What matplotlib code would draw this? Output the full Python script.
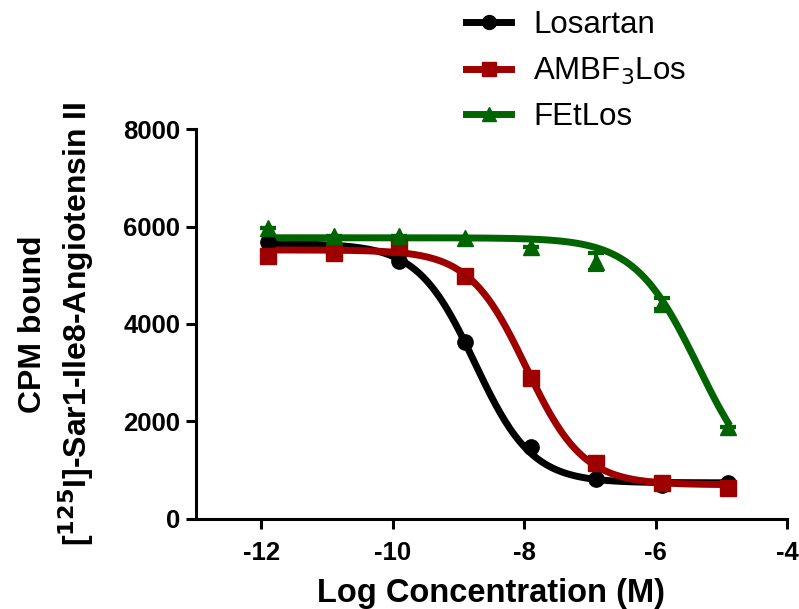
import numpy as np
import matplotlib
matplotlib.use('Agg')
import matplotlib.pyplot as plt

plt.rcParams['font.family'] = ['Liberation Sans', 'DejaVu Sans']
plt.rcParams['axes.unicode_minus'] = False

# Measured points (log M, CPM bound)
log_conc = [-11.9, -10.9, -9.9, -8.9, -7.9, -6.9, -5.9, -4.9]
losartan = [5690, 5550, 5290, 3640, 1480, 820, 690, 740]
ambf3los = [5390, 5460, 5570, 4980, 2900, 1150, 740, 630]
fetlos = [5980, 5810, 5800, 5760, 5580, 5280, 4420, 1880]
fetlos_err = [0, 0, 0, 0, 0, 180, 120, 0]

# One-site fit parameters: top, bottom, logIC50, hill
fit_losartan = (5650, 740, -8.75, 1.0)
fit_ambf3los = (5520, 700, -7.97, 1.0)
fit_fetlos = (5770, 500, -5.354, 0.9)

labels = ["Losartan", "AMBF$_3$Los", "FEtLos"]
colors = ["#000000", "#9E0000", "#006400"]
markers = ["o", "s", "^"]


def dose_response(x, top, bottom, logic50, hill):
    return bottom + (top - bottom) / (1 + 10 ** (hill * (x - logic50)))


fig = plt.figure(figsize=(7.99, 6.09), dpi=100)
ax = fig.add_axes([0.245, 0.148, 0.74, 0.64])

xfit = np.linspace(-11.9, -4.9, 300)
series = [(losartan, None, fit_losartan), (ambf3los, None, fit_ambf3los), (fetlos, fetlos_err, fit_fetlos)]
handles = []
for (y, err, fit), lab, col, mk in zip(series, labels, colors, markers):
    ax.plot(xfit, dose_response(xfit, *fit), color=col, lw=5, zorder=2)
    if err is not None:
        ax.errorbar(log_conc, y, yerr=err, fmt='none', ecolor=col, elinewidth=3,
                    capsize=6, capthick=3, zorder=3)
    ax.plot(log_conc, y, linestyle='none', marker=mk, color=col, markersize=11, zorder=4)
    h, = ax.plot([], [], color=col, lw=5, marker=mk, markersize=10, label=lab)
    handles.append(h)

ax.set_xlim(-13, -4)
ax.set_ylim(0, 8000)
ax.set_xticks([-12, -10, -8, -6, -4])
ax.set_yticks([0, 2000, 4000, 6000, 8000])
for s in ["top", "right"]:
    ax.spines[s].set_visible(False)
for s in ["left", "bottom"]:
    ax.spines[s].set_linewidth(2.2)
ax.tick_params(direction='out', length=7, width=2.2, labelsize=18.5, pad=4)
ax.tick_params(axis='x', pad=9)
for lbl in ax.get_xticklabels() + ax.get_yticklabels():
    lbl.set_fontweight('bold')

ax.set_xlabel("Log Concentration (M)", fontsize=23.5, fontweight='bold', labelpad=9)
ax.set_ylabel("CPM bound\n[$^{\\mathbf{125}}$I]-Sar1-Ile8-Angiotensin II", fontsize=23,
              fontweight='bold', labelpad=20, linespacing=1.25)

fig.legend(handles=handles, loc='upper left', bbox_to_anchor=(0.548, 1.03), frameon=False,
           fontsize=22.5, handlelength=1.45, handletextpad=0.7, labelspacing=0.5)

plt.savefig("out.png", dpi=100)
plt.close()
